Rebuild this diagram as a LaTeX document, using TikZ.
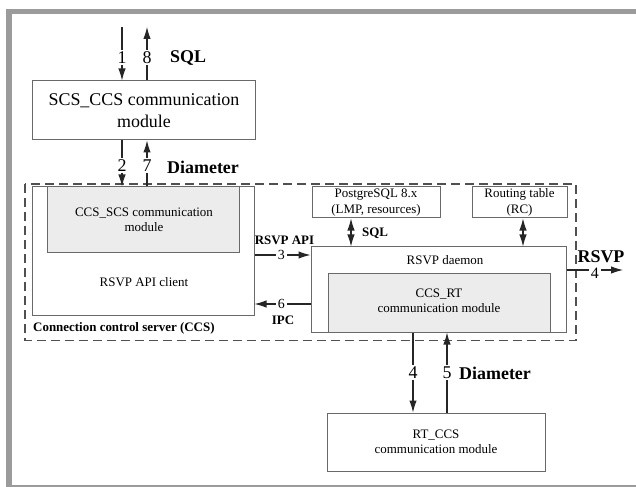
\documentclass[tikz,border=0pt]{standalone}
\usepackage{fontspec}
\setmainfont{Liberation Serif}
\usetikzlibrary{arrows.meta}
\definecolor{boxline}{RGB}{105,105,105}
\definecolor{framegray}{RGB}{155,155,155}
\definecolor{innerfill}{RGB}{236,236,236}
\definecolor{dashcol}{RGB}{80,80,80}
\tikzset{
  box/.style={draw=boxline, line width=1bp, fill=white, rectangle, inner sep=0pt, align=center},
  innerbox/.style={draw=boxline, line width=1bp, fill=innerfill, rectangle, inner sep=0pt, align=center},
  bigtxt/.style={font=\fontsize{18}{22}\selectfont, align=center, inner sep=0pt},
  smalltxt/.style={font=\fontsize{13}{15.5}\selectfont, align=center, inner sep=0pt},
  bigbold/.style={font=\fontsize{18}{20}\selectfont\bfseries, inner sep=0pt},
  smallbold/.style={font=\fontsize{13}{15}\selectfont\bfseries, inner sep=0pt},
  bignum/.style={font=\fontsize{18}{20}\selectfont, fill=white, inner sep=1.5bp},
  smallnum/.style={font=\fontsize{14}{16}\selectfont, fill=white, inner sep=2bp},
  tip/.style={},
  arr/.style={draw=black!85, line width=1.1bp, -{Latex[length=12bp,width=7.5bp]}},
  darr/.style={draw=black!85, line width=1.1bp, {Latex[length=12bp,width=7.5bp]}-{Latex[length=12bp,width=7.5bp]}},
  ccsdash/.style={draw=dashcol, line width=1.6bp, dash pattern=on 9bp off 5bp},
}
\begin{document}
\begin{tikzpicture}[x=1bp,y=-1bp]
\useasboundingbox (0,0) rectangle (636,487);
% frame
\fill[framegray] (6,9) rectangle (636,14.5);
\fill[framegray] (6,9) rectangle (11.5,487);
\draw[framegray, line width=1.2bp] (6,486) -- (636,486);

% CCS dashed region
\draw[ccsdash] (25,184) rectangle (576,340.5);

% boxes
\node[box, minimum width=222bp, minimum height=59bp] (scs) at (144,110.5) {};
\node[bigtxt] (scstxt) at (144,111) {SCS\_CCS communication\\module};

\node[box, minimum width=221bp, minimum height=128bp] (client) at (143.5,251) {};
\node[innerbox, minimum width=191bp, minimum height=65bp] (ccsscs) at (143.5,219.5) {};
\node[smalltxt] (ccsscstxt) at (144,220) {CCS\_SCS communication\\module};
\node[smalltxt] (clienttxt) at (144,282) {RSVP API client};

\node[box, minimum width=128bp, minimum height=31bp] (pg) at (376,202.5) {};
\node[smalltxt] (pgtxt) at (376,202.5) {PostgreSQL 8.x\\(LMP, resources)};
\node[box, minimum width=95bp, minimum height=31bp] (rt) at (519.5,202.5) {};
\node[smalltxt] (rttxt) at (519.5,202.5) {Routing table\\(RC)};

\node[box, minimum width=255bp, minimum height=85bp] (daemon) at (438.5,289.5) {};
\node[smalltxt] (daemontxt) at (445,260) {RSVP daemon};
\node[innerbox, minimum width=222bp, minimum height=59bp] (ccsrt) at (439,302.5) {};
\node[smalltxt] (ccsrttxt) at (439,301) {CCS\_RT\\communication module};

\node[box, minimum width=218bp, minimum height=58bp] (rtccs) at (436,442) {};
\node[smalltxt] (rtccstxt) at (436,442) {RT\_CCS\\communication module};

% free ends
\coordinate (in1) at (122,27);
\coordinate (out8) at (147,27);
\coordinate (rsvpout) at (623,270);

% top arrows
\draw[arr] (in1) -- node[bignum, pos=0.57] {1} (in1 |- scs.north);
\draw[arr] (out8 |- scs.north) -- node[bignum, pos=0.43] {8} (out8);
\node[bigbold, anchor=west] (sqltop) at (170,58) {SQL};

\draw[arr] (in1 |- scs.south) -- node[bignum, pos=0.55] {2} (in1 |- client.north);
\draw[arr] (out8 |- client.north) -- node[bignum, pos=0.45] {7} (out8 |- scs.south);
\node[bigbold, anchor=west] (diamtop) at (167,167) {Diameter};

% API arrows
\draw[arr] (client.east |- 0,255) -- node[smallnum, pos=0.48] {3} (daemon.west |- 0,255);
\draw[arr] (daemon.west |- 0,304) -- node[smallnum, pos=0.52] {6} (client.east |- 0,304);
\node[smallbold] (rsvpapi) at (284.5,240) {RSVP API};
\node[smallbold] (ipc) at (283,320) {IPC};

% database / routing
\draw[darr] (351,0 |- pg.south) -- (351,0 |- daemon.north);
\node[smallbold, anchor=west] (sqlmid) at (362,233) {SQL};
\draw[darr] (523,0 |- rt.south) -- (523,0 |- daemon.north);

% RSVP out
\draw[arr] (daemon.east |- rsvpout) -- node[smallnum, pos=0.5, yshift=-3bp, font=\fontsize{16}{18}\selectfont] {4} (rsvpout);
\node[bigbold] (rsvplbl) at (601,257) {RSVP};

% CCS label
\node[smallbold, anchor=west] (ccslbl) at (33,328) {Connection control server (CCS)};

% RT arrows
\draw[arr] (413,0 |- daemon.south) -- node[bignum, pos=0.5] {4} (413,0 |- rtccs.north);
\draw[arr] (447,0 |- rtccs.north) -- node[bignum, pos=0.5] {5} (447,0 |- daemon.south);
\node[bigbold, anchor=west] (diambot) at (459,373) {Diameter};
\end{tikzpicture}
\end{document}
